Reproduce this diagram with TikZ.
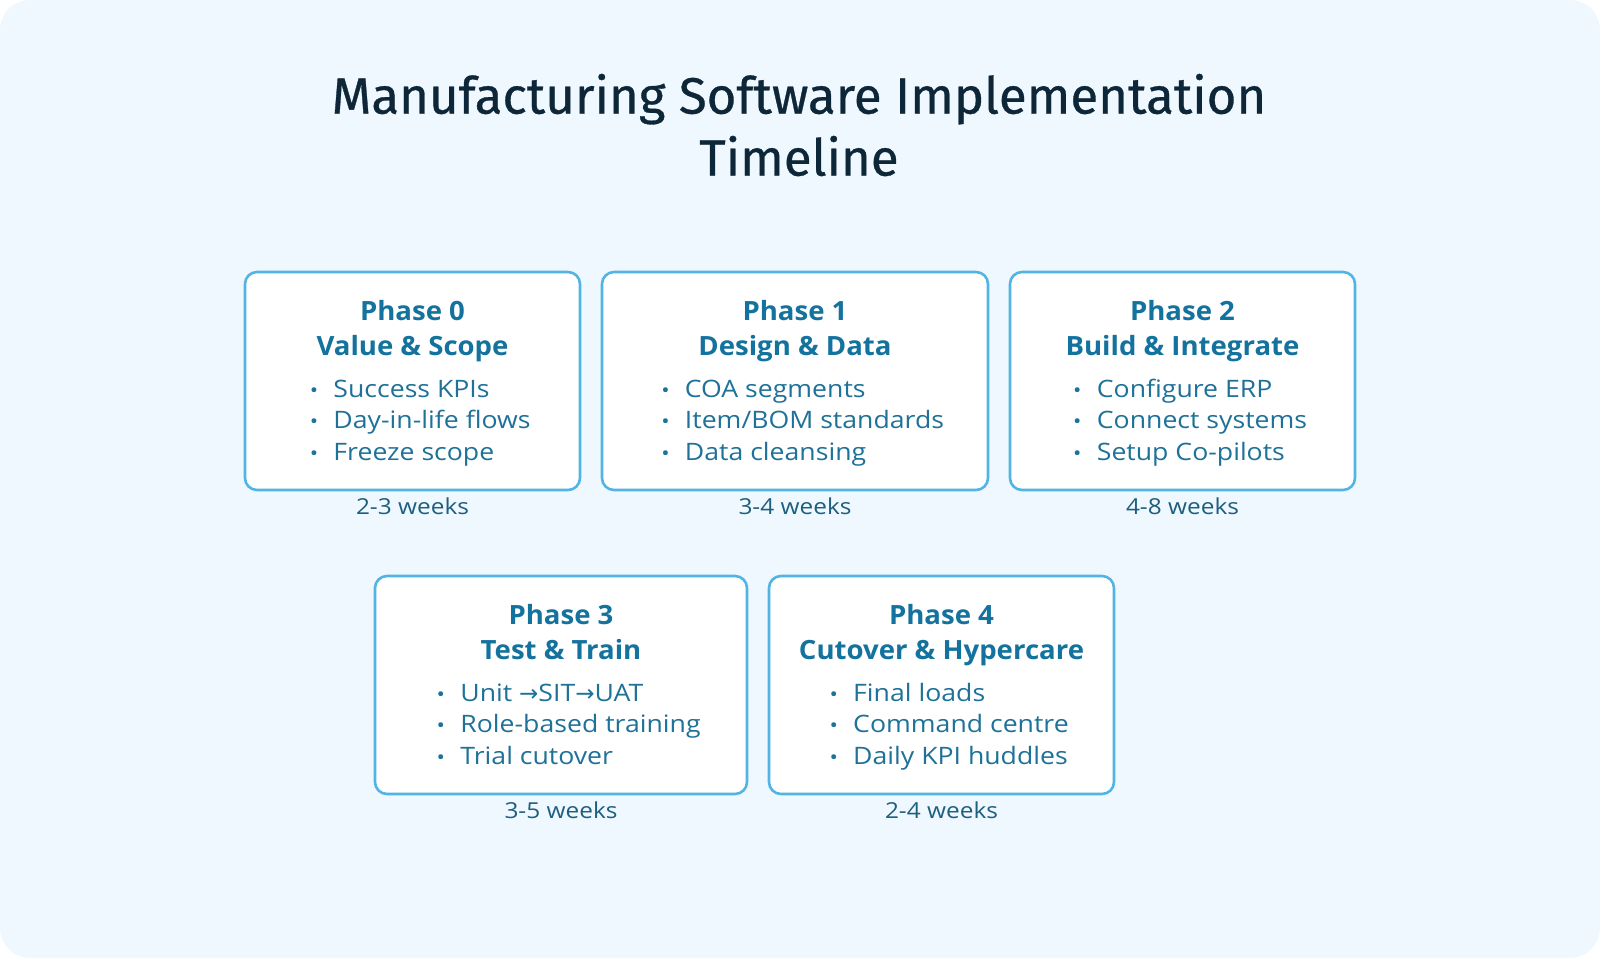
\documentclass[tikz,border=0pt]{standalone}
\usepackage{fontspec}
\setmainfont[FakeStretch=1.11]{Open Sans}
\newfontfamily\headfont[FakeStretch=1.04]{Open Sans}
\newfontfamily\titlefont[FakeBold=0.6]{Fira Sans}
\newfontfamily\arrowfont{DejaVu Sans}
\definecolor{bgc}{HTML}{F0F8FF}
\definecolor{bordc}{HTML}{52B4E4}
\definecolor{headc}{HTML}{13729E}
\definecolor{itemc}{HTML}{1E7198}
\definecolor{weekc}{HTML}{1D5F7E}
\definecolor{titlec}{HTML}{0D2638}
\tikzset{
  x=1pt, y=-1pt,
  phasebox/.style={draw=bordc, line width=2.6pt, fill=white, rounded corners=12pt, inner sep=0pt, minimum height=218pt},
  phasehead/.style={text=headc, font=\headfont\fontsize{26.5}{35}\selectfont\bfseries, align=center, inner sep=0pt},
  phaselist/.style={text=itemc, font=\fontsize{24}{31.5}\selectfont, align=left, inner sep=0pt},
  weeklabel/.style={text=weekc, font=\fontsize{22}{26}\selectfont, inner sep=0pt},
}
\newcommand{\bdot}{\makebox[7pt]{\fontsize{20}{20}\selectfont •}}
\newcommand{\rarr}{{\arrowfont\fontsize{23}{23}\selectfont →}}
\newcommand{\blist}[3]{\begin{tabular}{@{}l@{\hspace{16pt}}l@{}}\bdot & #1\\ \bdot & #2\\ \bdot & #3\end{tabular}}
\newcommand{\hd}[2]{\strut #1\\#2\strut}
\begin{document}
\begin{tikzpicture}
\fill[white] (0,0) rectangle (1600,958);
\fill[bgc, rounded corners=30pt] (0,0) rectangle (1600,958);
\useasboundingbox (0,0) rectangle (1600,958);
\node[text=titlec, font=\titlefont\fontsize{51}{62}\selectfont, align=center, inner sep=0pt] (title) at (799,125) {Manufacturing Software Implementation\\Timeline};
% row 1
\node[phasebox, minimum width=335pt] (b0) at (412.5,381) {};
\node[phasebox, minimum width=386pt] (b1) at (795,381) {};
\node[phasebox, minimum width=345pt] (b2) at (1182.5,381) {};
% row 2
\node[phasebox, minimum width=372pt] (b3) at (561,685) {};
\node[phasebox, minimum width=345pt] (b4) at (941.5,685) {};
% heads
\node[phasehead] (h0) at ([yshift=50pt]b0.center) {\hd{Phase 0}{Value \& Scope}};
\node[phasehead] (h1) at ([yshift=50pt]b1.center) {\hd{Phase 1}{Design \& Data}};
\node[phasehead] (h2) at ([yshift=50pt]b2.center) {\hd{Phase 2}{Build \& Integrate}};
\node[phasehead] (h3) at ([yshift=50pt]b3.center) {\hd{Phase 3}{Test \& Train}};
\node[phasehead] (h4) at ([yshift=50pt]b4.center) {\hd{Phase 4}{Cutover \& Hypercare}};
% lists
\node[phaselist] (l0) at ([xshift=8pt,yshift=-41.5pt]b0.center) {\blist{Success KPIs}{Day-in-life flows}{Freeze scope}};
\node[phaselist] (l1) at ([xshift=8pt,yshift=-41.5pt]b1.center) {\blist{COA segments}{Item/BOM standards}{Data cleansing}};
\node[phaselist] (l2) at ([xshift=8pt,yshift=-41.5pt]b2.center) {\blist{Configure ERP}{Connect systems}{Setup Co-pilots}};
\node[phaselist] (l3) at ([xshift=8pt,yshift=-41.5pt]b3.center) {\blist{Unit \rarr SIT\rarr UAT}{Role-based training}{Trial cutover}};
\node[phaselist] (l4) at ([xshift=8pt,yshift=-41.5pt]b4.center) {\blist{Final loads}{Command centre}{Daily KPI huddles}};
% weeks
\node[weeklabel] (w0) at ([yshift=-125pt]b0.center) {2-3 weeks};
\node[weeklabel] (w1) at ([yshift=-125pt]b1.center) {3-4 weeks};
\node[weeklabel] (w2) at ([yshift=-125pt]b2.center) {4-8 weeks};
\node[weeklabel] (w3) at ([yshift=-125pt]b3.center) {3-5 weeks};
\node[weeklabel] (w4) at ([yshift=-125pt]b4.center) {2-4 weeks};
\end{tikzpicture}
\end{document}
